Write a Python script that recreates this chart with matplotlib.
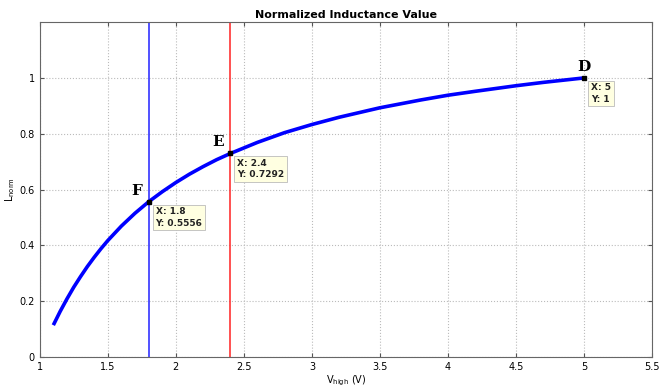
import numpy as np
import matplotlib
matplotlib.use('Agg')
import matplotlib.pyplot as plt

# values
v_high = [1.1, 1.15, 1.2, 1.25, 1.3, 1.35, 1.4, 1.45, 1.5, 1.6, 1.7, 1.8, 1.9, 2.0,
          2.1, 2.2, 2.3, 2.4, 2.6, 2.8, 3.0, 3.2, 3.5, 3.8, 4.0, 4.2, 4.5, 4.7, 5.0]
l_norm = [0.114, 0.163, 0.208, 0.250, 0.288, 0.324, 0.357, 0.388, 0.417, 0.469,
          0.515, 0.556, 0.592, 0.625, 0.655, 0.682, 0.707, 0.729, 0.769, 0.804,
          0.833, 0.859, 0.893, 0.921, 0.938, 0.952, 0.972, 0.984, 1.0]

# marked points
pt_names = ['F', 'E', 'D']
pt_x = [1.8, 2.4, 5.0]
pt_y = [0.5556, 0.7292, 1.0]
pt_text = ['X: 1.8\nY: 0.5556', 'X: 2.4\nY: 0.7292', 'X: 5\nY: 1']
name_dx = [-0.05, -0.05, 0.0]
name_ha = ['right', 'right', 'center']

xticks = [1, 1.5, 2, 2.5, 3, 3.5, 4, 4.5, 5, 5.5]
yticks = [0, 0.2, 0.4, 0.6, 0.8, 1]

fig = plt.figure(figsize=(6.62, 3.88), dpi=100)
ax = fig.add_axes([0.06, 0.08, 0.925, 0.863])

ax.axvline(1.8, color='#3333ff', lw=1.2)
ax.axvline(2.4, color='#ff3333', lw=1.2)
ax.plot(v_high, l_norm, color='#0000ff', lw=2.6, solid_capstyle='butt')
ax.plot(pt_x, pt_y, 's', color='black', ms=3.5)

for name, x, y, t, dx, ha in zip(pt_names, pt_x, pt_y, pt_text, name_dx, name_ha):
    ax.text(x + dx, y + 0.015, name, family='DejaVu Serif', fontweight='bold',
            fontsize=11, ha=ha, va='bottom')
    ax.annotate(t, (x, y), xytext=(5, -4), textcoords='offset points',
                ha='left', va='top', fontsize=6.5, fontweight='bold', color='#222222',
                linespacing=1.3,
                bbox=dict(boxstyle='square,pad=0.3', fc='#ffffe1', ec='#bbbbbb', lw=0.6))

ax.set_xlim(1, 5.5)
ax.set_ylim(0, 1.2)
ax.set_xticks(xticks)
ax.set_xticklabels([('%g' % v) for v in xticks])
ax.set_yticks(yticks)
ax.set_yticklabels([('%g' % v) for v in yticks])
ax.tick_params(labelsize=7, direction='in', length=3, color='#555555', right=True, top=True)
ax.grid(True, color='#bbbbbb', ls=':', lw=0.8)
for s in ax.spines.values():
    s.set_color('#666666')

ax.set_title('Normalized Inductance Value', fontsize=8, fontweight='bold', pad=3)
ax.set_xlabel(r'V$_{\mathrm{high}}$ (V)', fontsize=7, labelpad=1)
ax.set_ylabel(r'L$_{\mathrm{norm}}$', fontsize=7, labelpad=2)

fig.savefig('out.png', dpi=100)
